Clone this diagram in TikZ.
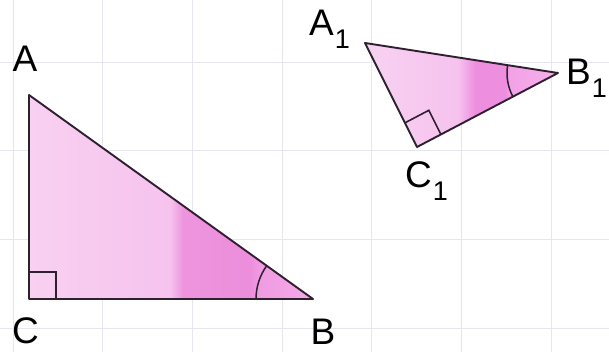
\documentclass[tikz,border=0pt]{standalone}
\usepackage{fontspec}
\setmainfont{Liberation Sans}
\usetikzlibrary{angles,calc}
\definecolor{gridc}{HTML}{E6E6EE}
\definecolor{edge}{HTML}{2E202E}
\definecolor{pA}{HTML}{F8D0F1}
\definecolor{pB}{HTML}{F6C3EE}
\definecolor{pC}{HTML}{EE94DE}
\definecolor{pD}{HTML}{EC8EDB}
\definecolor{pE}{HTML}{F09CE2}
\definecolor{pF}{HTML}{F3AAE7}
\definecolor{qA}{HTML}{F8D2F2}
\definecolor{qB}{HTML}{F6C2EE}
\definecolor{qC}{HTML}{EE8EDE}
\definecolor{qD}{HTML}{EE8EDE}
\definecolor{qE}{HTML}{F2A2E6}
\definecolor{qF}{HTML}{F4B0EA}
\pgfdeclarehorizontalshading{bigsh}{100bp}{color(0bp)=(pA); color(25bp)=(pA); color(49.8bp)=(pB); color(52.1bp)=(pC); color(63.9bp)=(pD); color(65.7bp)=(pE); color(75bp)=(pF); color(100bp)=(pF)}
\pgfdeclarehorizontalshading{smallsh}{100bp}{color(0bp)=(qA); color(25bp)=(qA); color(49.1bp)=(qB); color(53.5bp)=(qC); color(61.3bp)=(qD); color(62.4bp)=(qE); color(75bp)=(qF); color(100bp)=(qF)}
\newcommand{\subone}{\kern1pt\raisebox{-13pt}{\fontsize{27}{27}\selectfont 1}}
\tikzset{
  gridline/.style={draw=gridc, line width=0.8pt},
  tri/.style={draw=edge, line width=1.9pt, line join=round},
  mark90/.style={draw=edge, line width=1.6pt},
  anglearc/.style={draw=edge, line width=1.5pt},
  lab/.style={inner sep=0pt, font=\fontsize{37}{37}\selectfont},
}
\begin{document}
\begin{tikzpicture}[x=1pt,y=1pt]
\useasboundingbox (0,0) rectangle (609,352);
\fill[white] (0,0) rectangle (609,352);
% grid
\foreach \gx in {13,102.7,192.4,282,371.8,461.5,551.2}
  \draw[gridline] (\gx,0) -- (\gx,352);
\foreach \gy in {24,112.7,201.4,290}
  \draw[gridline] (0,\gy) -- (609,\gy);
% big triangle
\coordinate (A) at (29,257);
\coordinate (C) at (29,53);
\coordinate (B) at (313,53);
\shade[shading=bigsh] (A) -- (B) -- (C) -- cycle;
\draw[mark90] ($(C)+(0,27)$) -- ($(C)+(27,27)$) -- ($(C)+(27,0)$);
\pic[anglearc, angle radius=57pt] {angle=A--B--C};
\draw[tri] (A) -- (B) -- (C) -- cycle;
% small triangle
\coordinate (A1) at (365,309);
\coordinate (B1) at (558,279);
\coordinate (C1) at (417,205);
\shade[shading=smallsh] (A1) -- (B1) -- (C1) -- cycle;
\coordinate (P1) at ($(C1)!27pt!(A1)$);
\coordinate (Q1) at ($(C1)!27pt!(B1)$);
\draw[mark90] (P1) -- ($(P1)+(Q1)-(C1)$) -- (Q1);
\pic[anglearc, angle radius=51pt] {angle=A1--B1--C1};
\draw[tri] (A1) -- (B1) -- (C1) -- cycle;
% labels
\node[lab, anchor=base] (lA) at (25,280) {A};
\node[lab, anchor=base] (lC) at (25.5,8) {C};
\node[lab, anchor=base] (lB) at (323,7) {B};
\node[lab, anchor=base west] (lA1) at (309,316) {A\subone};
\node[lab, anchor=base west] (lB1) at (566,267) {B\subone};
\node[lab, anchor=base west] (lC1) at (405,164) {C\subone};
\end{tikzpicture}
\end{document}
